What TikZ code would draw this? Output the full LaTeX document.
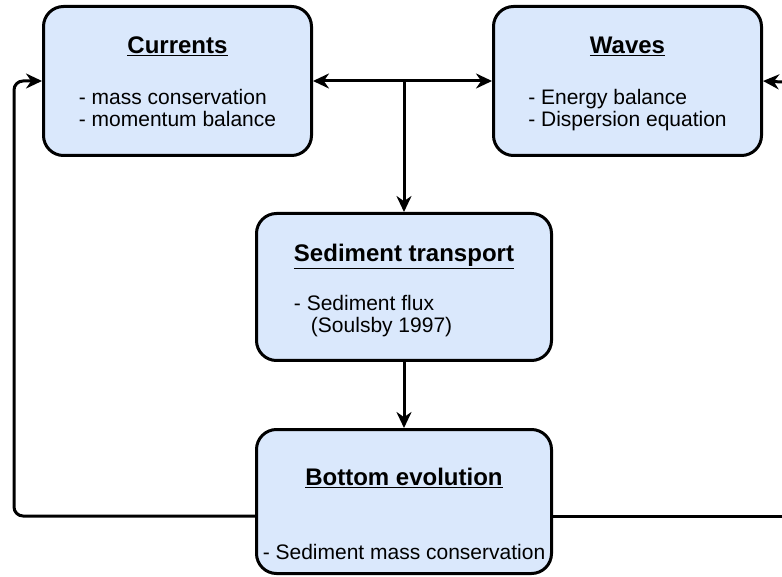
\documentclass[tikz,border=0pt]{standalone}
\usepackage{fontspec}
\setmainfont{Liberation Sans}
\usetikzlibrary{arrows.meta,positioning}

\definecolor{boxblue}{HTML}{DAE8FC}
\newcommand{\boxtitle}[1]{\multicolumn{1}{@{}c@{}}{\fontsize{24}{26}\selectfont\bfseries\underline{#1}}}
\newcommand{\lowered}[2]{\raisebox{-#1}[\height][\depth]{#2}}

\begin{document}
\begin{tikzpicture}[>={Stealth[length=16pt,width=15pt]}, x=1pt, y=1pt, node distance=66pt]
\tikzstyle{blk}=[draw, line width=3pt, rounded corners=20pt, fill=boxblue, inner sep=0pt, font=\fontsize{21}{22}\selectfont]
\tikzstyle{link}=[line width=3pt, rounded corners=9pt]
\useasboundingbox (0,0) rectangle (782,-577);

% model blocks
\node[blk, minimum width=268pt, minimum height=149pt] (cur) at (177.5,-81)
  {\lowered{4pt}{\begin{tabular}{@{}l@{}}\boxtitle{Currents}\\[29pt] - mass conservation\\ - momentum balance\end{tabular}}};
\node[blk, minimum width=268pt, minimum height=149pt] (wav) at (627.5,-81)
  {\lowered{4pt}{\begin{tabular}{@{}l@{}}\boxtitle{Waves}\\[29pt] - Energy balance\\ - Dispersion equation\end{tabular}}};
\node[blk, minimum width=295pt, minimum height=147pt] (sed) at (404,-287)
  {\lowered{5pt}{\begin{tabular}{@{}l@{}}\boxtitle{Sediment transport}\\[27pt] - Sediment flux\\ \hspace*{17pt}(Soulsby 1997)\end{tabular}}};
\node[blk, minimum width=295pt, minimum height=144pt, below=of sed] (bot)
  {\lowered{16pt}{\begin{tabular}{@{}l@{}}\boxtitle{Bottom evolution}\\[52pt] - Sediment mass conservation\end{tabular}}};

% couplings
\coordinate (split) at (sed.north |- cur.east);
\coordinate (loopL) at (14,-516);
\coordinate (edgeB) at (782,-516);
\coordinate (edgeT) at (782,-82);
\draw[link, <->] (cur.east) -- (wav.west);
\draw[link, ->] (split) -- (sed.north);
\draw[link, ->] (sed) -- (bot);
\draw[link, ->] ([yshift=-14.5pt]bot.west) -- (loopL) |- (cur.west);
\draw[link] ([yshift=-14.5pt]bot.east) -- (edgeB);
\draw[link, ->] (edgeT) -- (wav.east);
\end{tikzpicture}
\end{document}
